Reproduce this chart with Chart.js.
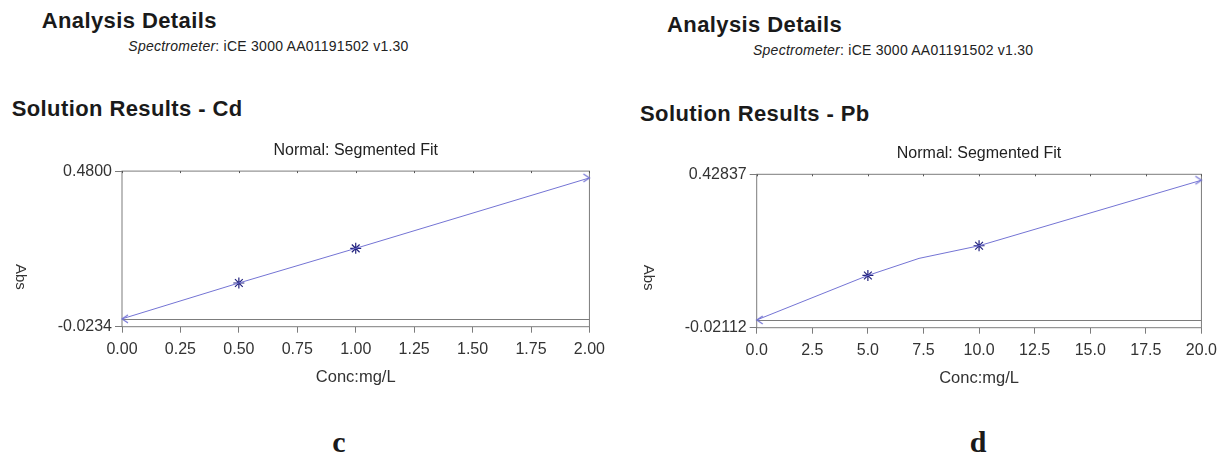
<!DOCTYPE html>
<html>
<head>
<meta charset="utf-8">
<script src="https://cdn.jsdelivr.net/npm/chart.js@4/dist/chart.umd.min.js"></script>
<style>
  html, body { margin: 0; padding: 0; background: #fff; }
  body { width: 1224px; height: 455px; position: relative; overflow: hidden;
         font-family: "Liberation Sans", Arial, sans-serif; color: #1a1a1a; }
  .t { position: absolute; white-space: nowrap; line-height: 1; }
  .h1 { font-size: 22px; font-weight: bold; letter-spacing: 0.4px; }
  .spec { font-size: 14px; letter-spacing: 0.25px; color: #222; }
  .panel { position: absolute; font-family: "Liberation Serif", "Times New Roman", serif;
           font-weight: bold; font-size: 30px; line-height: 1; width: 100px; text-align: center; }
  canvas { position: absolute; }
</style>
</head>
<body>
<div class="t h1" style="left:41.7px; top:9.7px;">Analysis Details</div>
<div class="t spec" style="left:128.3px; top:39.2px;"><i>Spectrometer</i>: iCE 3000 AA01191502 v1.30</div>
<div class="t h1" style="left:11.7px; top:98px;">Solution Results - Cd</div>

<div class="t h1" style="left:667px; top:14px;">Analysis Details</div>
<div class="t spec" style="left:753px; top:43.2px;"><i>Spectrometer</i>: iCE 3000 AA01191502 v1.30</div>
<div class="t h1" style="left:640px; top:103px;">Solution Results - Pb</div>

<canvas id="cd" width="612" height="270" style="left:0px; top:131px; width:612px; height:270px;"></canvas>
<canvas id="pb" width="612" height="270" style="left:612px; top:131px; width:612px; height:270px;"></canvas>

<div class="panel" style="left:289px; top:427px;">c</div>
<div class="panel" style="left:928px; top:427px;">d</div>

<script>
// ---- Cd calibration ----
const cdFitConc = [0, 0.5, 1.0, 2.0];
const cdFitAbs  = [0.002, 0.118, 0.230, 0.458];
const cdStdConc = [0.5, 1.0];
const cdStdAbs  = [0.118, 0.230];
const cdEndConc = [0, 2.0];
const cdEndAbs  = [0.002, 0.458];
const cdXTicks  = ['0.00', '0.25', '0.50', '0.75', '1.00', '1.25', '1.50', '1.75', '2.00'];
const cdYMin = -0.0234, cdYMax = 0.48;
const cdYTicks = ['-0.0234', '0.4800'];

// ---- Pb calibration ----
const pbFitConc = [0, 5.0, 7.3, 10.0, 20.0];
const pbFitAbs  = [0.0015, 0.132, 0.182, 0.219, 0.411];
const pbStdConc = [5.0, 10.0];
const pbStdAbs  = [0.132, 0.219];
const pbEndConc = [0, 20.0];
const pbEndAbs  = [0.0015, 0.411];
const pbXTicks  = ['0.0', '2.5', '5.0', '7.5', '10.0', '12.5', '15.0', '17.5', '20.0'];
const pbYMin = -0.02112, pbYMax = 0.42837;
const pbYTicks = ['-0.02112', '0.42837'];

const FONT = '"Liberation Sans", Arial, sans-serif';
const FRAME = '#7c7c7c';
const LINE = '#7474d4';
const STAR = '#23237e';

// small open chevrons used as end-of-range markers
function chevron(dir) {
  const c = document.createElement('canvas');
  c.width = 16; c.height = 16;
  const g = c.getContext('2d');
  g.strokeStyle = LINE; g.lineWidth = 1.2;
  g.beginPath();
  if (dir < 0) { g.moveTo(14, 4); g.lineTo(8, 8); g.lineTo(14, 12); }
  else         { g.moveTo(2, 4);  g.lineTo(8, 8); g.lineTo(2, 12); }
  g.stroke();
  return c;
}
const leftArrow = chevron(-1);
const rightArrow = chevron(1);

const pts = (xs, ys) => xs.map((x, i) => ({ x: x, y: ys[i] }));

// frame, zero line, inner top ticks and the rotated "Abs" label
const framePlugin = {
  id: 'frame',
  beforeDatasetsDraw(chart, args, opts) {
    const { ctx, chartArea: a, scales } = chart;
    ctx.save();
    ctx.strokeStyle = FRAME;
    ctx.lineWidth = 1;
    ctx.strokeRect(a.left, a.top, a.right - a.left, a.bottom - a.top);
    const y0 = Math.round(scales.y.getPixelForValue(0)) + 0.5;
    ctx.beginPath();
    ctx.moveTo(a.left, y0); ctx.lineTo(a.right, y0);
    ctx.stroke();
    ctx.strokeStyle = '#555';
    ctx.beginPath();
    scales.x.ticks.forEach(t => {
      const x = Math.round(scales.x.getPixelForValue(t.value)) + 0.5;
      ctx.moveTo(x, a.top); ctx.lineTo(x, a.top + 2);
    });
    ctx.stroke();
    ctx.restore();
  },
  afterDraw(chart, args, opts) {
    const { ctx, chartArea: a } = chart;
    ctx.save();
    ctx.fillStyle = '#333';
    ctx.font = '15px ' + FONT;
    ctx.textAlign = 'center';
    ctx.textBaseline = 'middle';
    ctx.translate(a.left - opts.dx, a.top + opts.dy);
    ctx.rotate(Math.PI / 2);
    ctx.fillText('Abs', 0, 0);
    ctx.restore();
  }
};

function makeChart(id, d) {
  return new Chart(document.getElementById(id), {
    type: 'scatter',
    data: {
      datasets: [
        { label: 'Fit', data: pts(d.fitX, d.fitY), showLine: true, borderColor: LINE,
          borderWidth: 1, pointRadius: 0, tension: 0, fill: false },
        { label: 'Standards', data: pts(d.stdX, d.stdY), showLine: false, pointStyle: 'star',
          pointRadius: 5.5, borderColor: STAR, pointBorderColor: STAR, pointBorderWidth: 1.2, clip: false },
        { label: 'Range', data: pts(d.endX, d.endY), showLine: false,
          pointStyle: [leftArrow, rightArrow], pointRadius: 8, clip: false }
      ]
    },
    options: {
      responsive: false,
      animation: false,
      events: [],
      layout: { padding: d.pad },
      plugins: {
        legend: { display: false },
        tooltip: { enabled: false },
        title: {
          display: true, text: 'Normal: Segmented Fit', fullSize: false,
          color: '#222', font: { family: FONT, size: 16, weight: 'normal', lineHeight: 1.2 },
          padding: { top: 0, bottom: d.titleGap }
        },
        frame: { dx: d.absDx, dy: d.absDy }
      },
      scales: {
        x: {
          type: 'linear', position: 'bottom', min: d.xMin, max: d.xMax,
          afterFit: s => { s.height = 62; },
          ticks: { stepSize: d.xStep, padding: 7, color: '#333', maxRotation: 0,
                   font: { family: FONT, size: 16 },
                   callback: (v, i) => d.xTicks[i] },
          grid: { drawOnChartArea: false, drawTicks: true, tickLength: 6, color: FRAME },
          border: { display: false },
          title: { display: true, text: 'Conc:mg/L', color: '#333',
                   font: { family: FONT, size: 16.5 }, padding: { top: 0, bottom: 1 } }
        },
        y: {
          type: 'linear', position: 'left', min: d.yMin, max: d.yMax,
          afterBuildTicks: s => { s.ticks = [{ value: d.yMin }, { value: d.yMax }]; },
          afterFit: s => { s.width = 100; },
          ticks: { padding: 3, color: '#333', font: { family: FONT, size: 16 },
                   callback: (v, i) => d.yTicks[i] },
          grid: { drawOnChartArea: false, drawTicks: true, tickLength: 7, color: FRAME },
          border: { display: false }
        }
      }
    },
    plugins: [framePlugin]
  });
}

makeChart('cd', {
  fitX: cdFitConc, fitY: cdFitAbs, stdX: cdStdConc, stdY: cdStdAbs, endX: cdEndConc, endY: cdEndAbs,
  xMin: 0, xMax: 2, xStep: 0.25, xTicks: cdXTicks,
  yMin: cdYMin, yMax: cdYMax, yTicks: cdYTicks,
  pad: { left: 22, right: 21, top: 9.9, bottom: 12.3 }, titleGap: 11.0,
  absDx: 102, absDy: 105.7
});

makeChart('pb', {
  fitX: pbFitConc, fitY: pbFitAbs, stdX: pbStdConc, stdY: pbStdAbs, endX: pbEndConc, endY: pbEndAbs,
  xMin: 0, xMax: 20, xStep: 2.5, xTicks: pbXTicks,
  yMin: pbYMin, yMax: pbYMax, yTicks: pbYTicks,
  pad: { left: 44.7, right: 17.3, top: 12.9, bottom: 11.3 }, titleGap: 11.2,
  absDx: 108.7, absDy: 103.3
});
</script>
</body>
</html>
